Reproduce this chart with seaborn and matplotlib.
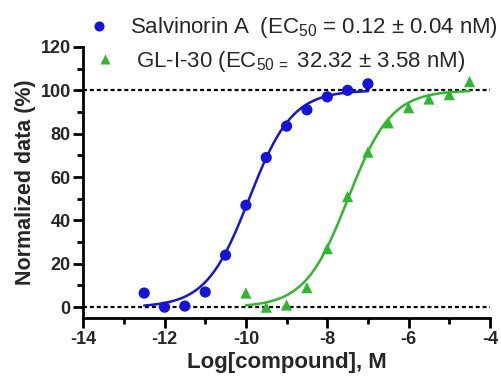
import numpy as np
import pandas as pd
import matplotlib
matplotlib.use("Agg")
import matplotlib.pyplot as plt
import seaborn as sns

# ---- data ----
salv_logx = [-12.5, -12.0, -11.5, -11.0, -10.5, -10.0, -9.5, -9.0, -8.5, -8.0, -7.5, -7.0]
salv_resp = [6.5, 0.0, 0.5, 7.0, 24.0, 47.0, 69.0, 83.5, 91.0, 97.0, 100.0, 103.0]
gl_logx = [-10.0, -9.5, -9.0, -8.5, -8.0, -7.5, -7.0, -6.5, -6.0, -5.5, -5.0, -4.5]
gl_resp = [6.5, 0.0, 1.0, 9.0, 27.0, 51.0, 71.5, 85.0, 92.0, 96.0, 98.0, 104.0]

# fitted curve parameters (EC50 in M)
salv_ec50 = 0.12e-9
gl_ec50 = 32.32e-9
hill = 0.82
bottom, top = 0.0, 100.0

labels = ["Salvinorin A\u2002(EC$_{50}$ = 0.12 $\\pm$ 0.04 nM)",
          "GL-I-30 (EC$_{50\\,=}$ 32.32 $\\pm$ 3.58 nM)"]
x_ticks = [-14, -12, -10, -8, -6, -4]
y_ticks = [0, 20, 40, 60, 80, 100, 120]

blue = "#1414dc"
green = "#2fb82f"

sns.set_theme(style="ticks")
plt.rcParams["font.family"] = ["Liberation Sans", "DejaVu Sans"]
plt.rcParams["mathtext.fontset"] = "custom"
plt.rcParams["mathtext.rm"] = "Liberation Sans"
plt.rcParams["mathtext.it"] = "Liberation Sans:italic"
plt.rcParams["mathtext.bf"] = "Liberation Sans:bold"

pts = pd.DataFrame({
    "logx": salv_logx + gl_logx,
    "resp": salv_resp + gl_resp,
    "cmp": [labels[0]] * len(salv_logx) + [labels[1]] * len(gl_logx),
})

def curve(lx, ec50):
    return bottom + (top - bottom) / (1 + 10 ** ((np.log10(ec50) - lx) * hill))

cx1 = np.linspace(min(salv_logx), max(salv_logx), 200)
cx2 = np.linspace(min(gl_logx), max(gl_logx), 200)
curves = pd.DataFrame({
    "logx": np.concatenate([cx1, cx2]),
    "resp": np.concatenate([curve(cx1, salv_ec50), curve(cx2, gl_ec50)]),
    "cmp": [labels[0]] * len(cx1) + [labels[1]] * len(cx2),
})

fig = plt.figure(figsize=(5.01, 3.85), dpi=100)
ax = fig.add_axes([0.166, 0.174, 0.812, 0.704])

ax.axhline(0, color="black", lw=1.6, ls=(0, (1.8, 1.3)), zorder=1)
ax.axhline(100, color="black", lw=1.6, ls=(0, (1.8, 1.3)), zorder=1)

sns.lineplot(data=curves, x="logx", y="resp", hue="cmp",
             palette=[blue, green], lw=1.8, legend=False, ax=ax, zorder=2)
sns.scatterplot(data=pts, x="logx", y="resp", hue="cmp", style="cmp",
                markers=["o", "^"], palette=[blue, green], s=65,
                edgecolor="none", ax=ax, zorder=3)

ax.set_xlim(-14, -4)
ax.set_ylim(-5, 120)
ax.set_xticks(x_ticks)
ax.set_yticks(y_ticks)
ax.set_xticks(np.arange(-13, -4, 2), minor=True)
ax.set_yticks(np.arange(10, 120, 20), minor=True)
ax.set_xticklabels([str(t) for t in x_ticks], fontsize=13, fontweight="bold")
ax.set_yticklabels([str(t) for t in y_ticks], fontsize=13, fontweight="bold")
ax.tick_params(which="major", length=7, width=2, color="black", pad=2)
ax.tick_params(which="minor", length=4, width=2, color="black")
for s in ["top", "right"]:
    ax.spines[s].set_visible(False)
for s in ["left", "bottom"]:
    ax.spines[s].set_linewidth(2)
    ax.spines[s].set_color("black")

ax.set_xlabel("Log[compound], M", fontsize=16, fontweight="bold", labelpad=3)
ax.set_ylabel("Normalized data (%)", fontsize=15.5, fontweight="bold", labelpad=3)

h, l = ax.get_legend_handles_labels()
ax.get_legend().remove() if ax.get_legend() else None
W, H = 501, 385
leg1 = ax.legend([h[0]], [l[0]], loc="center left",
                 bbox_to_anchor=(90 / W, 1 - 28 / H), bbox_transform=fig.transFigure,
                 frameon=False, fontsize=16, handlelength=0.8, handletextpad=1.0,
                 borderpad=0, borderaxespad=0, markerscale=0.9)
ax.add_artist(leg1)
leg2 = ax.legend([h[1]], [l[1]], loc="center left",
                 bbox_to_anchor=(96 / W, 1 - 61 / H), bbox_transform=fig.transFigure,
                 frameon=False, fontsize=16, handlelength=0.8, handletextpad=1.0,
                 borderpad=0, borderaxespad=0, markerscale=0.9)

fig.savefig("out.png", dpi=100)
